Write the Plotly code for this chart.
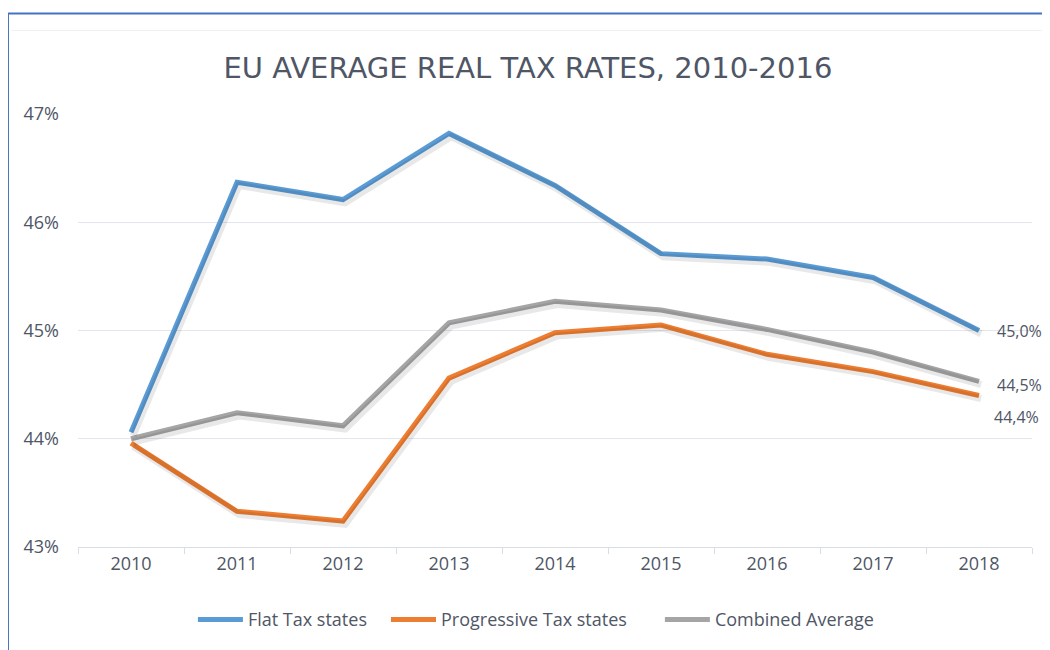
import plotly.graph_objects as go

years = ["2010", "2011", "2012", "2013", "2014", "2015", "2016", "2017", "2018"]
flat_tax = [44.06, 46.37, 46.21, 46.82, 46.34, 45.71, 45.66, 45.49, 45.0]
progressive_tax = [43.96, 43.33, 43.24, 44.56, 44.98, 45.05, 44.78, 44.62, 44.40]
combined_avg = [44.0, 44.24, 44.12, 45.07, 45.27, 45.19, 45.01, 44.80, 44.53]
end_labels = ["45,0%", "44,5%", "44,4%"]

NB = "\u00a0"
series = [
    ("Flat Tax states", flat_tax, "#5b9bd5", 3),
    ("Progressive Tax states", progressive_tax, "#ed7d31", 6),
    ("Combined Average", combined_avg, "#a5a5a5", 0),
]

FONT = "Open Sans"
TXT = "#4f5666"
Y_RANGE = [43, 47]
X_RANGE = [-0.5, 8.5]

fig = go.Figure()
# soft drop shadows (same data drawn on slightly offset overlay axes)
for name, vals, col, pad in series:
    fig.add_trace(go.Scatter(
        x=years, y=vals, mode="lines", xaxis="x2", yaxis="y2",
        line=dict(color="rgba(0,0,0,0.09)", width=7),
        hoverinfo="skip", showlegend=False,
    ))
for name, vals, col, pad in series:
    fig.add_trace(go.Scatter(
        x=years, y=vals, name=name + NB * pad, mode="lines",
        line=dict(color=col, width=5), hovertemplate=name + ": %{y:.2f}%<extra></extra>",
    ))

# end-of-line value labels (x as category index of the last year)
last_idx = len(years) - 1
label_specs = [
    (flat_tax[-1], end_labels[0], 16, 0),
    (combined_avg[-1], end_labels[1], 16, -4),
    (progressive_tax[-1], end_labels[2], 13, -22),
]
for yv, txt, xs, ys in label_specs:
    fig.add_annotation(
        x=last_idx, y=yv, text=txt, showarrow=False,
        xanchor="left", yanchor="middle", xshift=xs, yshift=ys,
        font=dict(family=FONT, size=16, color=TXT),
    )

# frame border (blue) and faint header line
fig.add_shape(type="line", xref="paper", yref="paper",
              x0=-0.0734, x1=-0.0734, y0=1.232, y1=-0.3,
              line=dict(color="#4472c4", width=2))
fig.add_shape(type="line", xref="paper", yref="paper",
              x0=-0.0734, x1=1.05, y0=1.232, y1=1.232,
              line=dict(color="#4472c4", width=2))
fig.add_shape(type="line", xref="paper", yref="paper",
              x0=-0.07, x1=1.05, y0=1.193, y1=1.193,
              line=dict(color="#eef0f5", width=1))

fig.update_layout(
    width=1042, height=642,
    margin=dict(l=70, r=18, t=106, b=101),
    paper_bgcolor="white", plot_bgcolor="white",
    title=dict(text="EU AVERAGE REAL TAX RATES, 2010-2016",
               x=0.499, xref="container", xanchor="center",
               y=1 - 60 / 642, yref="container", yanchor="middle",
               font=dict(family="DejaVu Sans", size=29, color=TXT)),
    xaxis=dict(
        type="category", range=X_RANGE,
        showgrid=False, showline=True, linecolor="#d9dde6", linewidth=1,
        ticks="outside", tickson="boundaries", ticklen=6, tickcolor="#d9dde6",
        tickfont=dict(family=FONT, size=18, color=TXT),
        zeroline=False,
    ),
    xaxis2=dict(
        type="category", overlaying="x",
        range=[X_RANGE[0] - 0.02, X_RANGE[1] - 0.02],
        visible=False,
    ),
    yaxis=dict(
        range=Y_RANGE, tickvals=[43, 44, 45, 46, 47],
        ticktext=["43%", "44%", "45%", "46%", "47%"],
        showgrid=True, gridcolor="#e3e6ed", gridwidth=1,
        showline=False, zeroline=False, ticks="",
        tickfont=dict(family=FONT, size=18, color=TXT),
        ticklabelstandoff=18,
    ),
    yaxis2=dict(
        overlaying="y",
        range=[Y_RANGE[0] + 0.03, Y_RANGE[1] + 0.03],
        visible=False,
    ),
    legend=dict(orientation="h", x=0.48, xanchor="center",
                y=-0.168, yanchor="middle",
                font=dict(family=FONT, size=18, color=TXT),
                itemwidth=45, tracegroupgap=0),
    showlegend=True,
)

fig.write_html("out.html")
